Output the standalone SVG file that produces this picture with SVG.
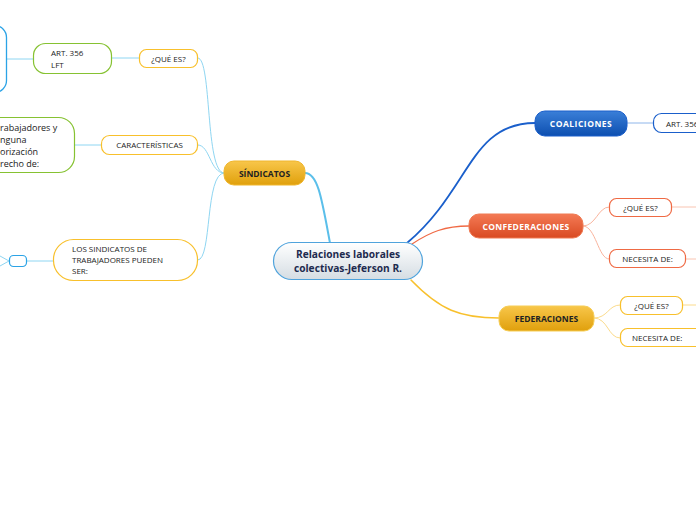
<svg xmlns="http://www.w3.org/2000/svg" width="696" height="520" viewBox="0 0 696 520">
<style>
text{font-family:"Open Sans","Noto Sans","DejaVu Sans",sans-serif;fill:#222;}
.s{font-size:8px;}
.b{font-size:8.5px;font-weight:bold;}
.w{fill:#fff;}
.c{fill:none;stroke-linecap:round;}
</style>
<defs>
<linearGradient id="gc" x1="0" y1="0" x2="0" y2="1"><stop offset="0" stop-color="#ffffff"/><stop offset="1" stop-color="#d5dde3"/></linearGradient>
<linearGradient id="gg" x1="0" y1="0" x2="0" y2="1"><stop offset="0" stop-color="#f8c64a"/><stop offset="1" stop-color="#e0a00c"/></linearGradient>
<linearGradient id="gb" x1="0" y1="0" x2="0" y2="1"><stop offset="0" stop-color="#3a7fd8"/><stop offset="1" stop-color="#0d4fb0"/></linearGradient>
<linearGradient id="gr" x1="0" y1="0" x2="0" y2="1"><stop offset="0" stop-color="#f47a55"/><stop offset="1" stop-color="#d94a22"/></linearGradient>
</defs>
<g id="connectors">
<path class="c" d="M330,243 C322,200 318,173 305,173" stroke="#5bbfea" stroke-width="2"/>
<path class="c" d="M407,243 C470,190 470,123 535,123" stroke="#1a5fcb" stroke-width="1.8"/>
<path class="c" d="M412,244 C430,232 445,226 469,226" stroke="#f06a45" stroke-width="1.3"/>
<path class="c" d="M411,280 C440,310 460,318 499,318" stroke="#f8c02c" stroke-width="1.5"/>
<path class="c" d="M224,173 C205,173 212,58 198,58" stroke="#8fd6f2" stroke-width="1"/>
<path class="c" d="M224,173 C210,173 210,145 198,145" stroke="#8fd6f2" stroke-width="1"/>
<path class="c" d="M224,173 C205,173 212,260 198,260" stroke="#8fd6f2" stroke-width="1"/>
<path class="c" d="M139,58 L112,58" stroke="#8fd6f2" stroke-width="1"/>
<path class="c" d="M33,59 L7,59" stroke="#8fd6f2" stroke-width="1"/>
<path class="c" d="M101,145 L75,145" stroke="#8fd6f2" stroke-width="1"/>
<path class="c" d="M53,261 L27,261" stroke="#8fd6f2" stroke-width="1"/>
<path class="c" d="M9,261 L0,256 M9,261 L0,266" stroke="#8fd6f2" stroke-width="1"/>
<path class="c" d="M627,123 L653,123" stroke="#8fb6ea" stroke-width="1"/>
<path class="c" d="M583,226 C596,226 598,207 609,207" stroke="#f9b49d" stroke-width="1"/>
<path class="c" d="M583,226 C596,226 598,259 609,259" stroke="#f9b49d" stroke-width="1"/>
<path class="c" d="M672,207 L696,207" stroke="#f9c4b1" stroke-width="1"/>
<path class="c" d="M686,259 L696,259" stroke="#f9c4b1" stroke-width="1"/>
<path class="c" d="M594,318 C608,318 608,305 620,305" stroke="#fbdb8c" stroke-width="1"/>
<path class="c" d="M594,318 C608,318 608,338 620,338" stroke="#fbdb8c" stroke-width="1"/>
<path class="c" d="M683,305 L696,305" stroke="#fbdb8c" stroke-width="1"/>
</g>
<g id="center">
<rect x="273.5" y="242.5" width="149" height="37" rx="18.5" fill="url(#gc)" stroke="#4fa3dc" stroke-width="1.2"/>
<text x="348" y="258" text-anchor="middle" style="font-size:10.2px;font-weight:bold;fill:#1d2b4f">Relaciones laborales</text>
<text x="348" y="272" text-anchor="middle" style="font-size:10.2px;font-weight:bold;fill:#1d2b4f">colectivas-Jeferson R.</text>
</g>
<g id="sindicatos">
<rect x="224" y="161" width="81" height="24" rx="10" fill="url(#gg)" stroke="#f0b62c" stroke-width="1"/>
<text x="264.5" y="176.5" text-anchor="middle" class="b">SÍNDICATOS</text>
</g>
<g id="coaliciones">
<rect x="535" y="111" width="92" height="25" rx="10" fill="url(#gb)" stroke="#1a5fcb" stroke-width="1"/>
<text x="581" y="126.5" text-anchor="middle" class="b w" style="letter-spacing:0.5px">COALICIONES</text>
</g>
<g id="confederaciones">
<rect x="469" y="214" width="114" height="24" rx="10" fill="url(#gr)" stroke="#ef7a52" stroke-width="1"/>
<text x="526" y="229.5" text-anchor="middle" class="b w" style="letter-spacing:0.3px">CONFEDERACIONES</text>
</g>
<g id="federaciones">
<rect x="499" y="306" width="95" height="25" rx="10" fill="url(#gg)" stroke="#f6cd55" stroke-width="1"/>
<text x="546.5" y="321.5" text-anchor="middle" class="b">FEDERACIONES</text>
</g>
<g id="art356-coal">
<rect x="653.5" y="113.5" width="60" height="19" rx="8" fill="#fff" stroke="#1a5fcb" stroke-width="1.2"/>
<text x="666" y="126.5" class="s">ART. 356</text>
</g>
<g id="conf-que">
<rect x="609.5" y="198.5" width="62" height="18" rx="7" fill="#fff" stroke="#ef6a44" stroke-width="1.2"/>
<text x="640.5" y="210.5" text-anchor="middle" class="s">¿QUÉ ES?</text>
</g>
<g id="conf-necesita">
<rect x="609.5" y="249.5" width="76" height="18" rx="7" fill="#fff" stroke="#ef6a44" stroke-width="1.2"/>
<text x="647.5" y="261.5" text-anchor="middle" class="s">NECESITA DE:</text>
</g>
<g id="fed-que">
<rect x="620.5" y="296.5" width="62" height="18" rx="7" fill="#fff" stroke="#f8c02c" stroke-width="1.2"/>
<text x="651.5" y="308.5" text-anchor="middle" class="s">¿QUÉ ES?</text>
</g>
<g id="fed-necesita">
<rect x="620.5" y="328.5" width="82" height="18" rx="7" fill="#fff" stroke="#f8c02c" stroke-width="1.2"/>
<text x="632" y="340.5" class="s">NECESITA DE:</text>
</g>
<g id="sind-que">
<rect x="139.5" y="49.5" width="58" height="18" rx="7" fill="#fff" stroke="#f8c02c" stroke-width="1.2"/>
<text x="168.5" y="61.5" text-anchor="middle" class="s">¿QUÉ ES?</text>
</g>
<g id="art356-lft">
<rect x="33.5" y="43.5" width="78" height="30" rx="12" fill="#fff" stroke="#86c232" stroke-width="1.2"/>
<text x="51" y="56" class="s">ART. 356</text>
<text x="51" y="68" class="s">LFT</text>
</g>
<g id="def-node">
<rect x="-40" y="25.5" width="46.5" height="67" rx="12" fill="#fff" stroke="#2ba3e6" stroke-width="1.3"/>
</g>
<g id="caracteristicas">
<rect x="101.5" y="135.5" width="96" height="19" rx="8" fill="#fff" stroke="#f8c02c" stroke-width="1.2"/>
<text x="149.5" y="148" text-anchor="middle" class="s">CARACTERÍSTICAS</text>
</g>
<g id="carac-text">
<rect x="-40" y="117.5" width="114.5" height="55" rx="16" fill="#fff" stroke="#86c232" stroke-width="1.2"/>
<text x="0" y="131" style="font-size:9px">rabajadores y</text>
<text x="0" y="143" style="font-size:9px">nguna</text>
<text x="0" y="155" style="font-size:9px">orización</text>
<text x="0" y="167" style="font-size:9px">recho de:</text>
</g>
<g id="pueden">
<rect x="53.5" y="239.5" width="144" height="41" rx="20" fill="#fff" stroke="#f8c02c" stroke-width="1.2"/>
<text x="72" y="252" class="s">LOS SINDICATOS DE</text>
<text x="72" y="263" class="s">TRABAJADORES PUEDEN</text>
<text x="72" y="274" class="s">SER:</text>
</g>
<g id="small-blue">
<rect x="9.5" y="255.5" width="17" height="11" rx="4" fill="#fff" stroke="#2ba3e6" stroke-width="1.2"/>
</g>
</svg>
